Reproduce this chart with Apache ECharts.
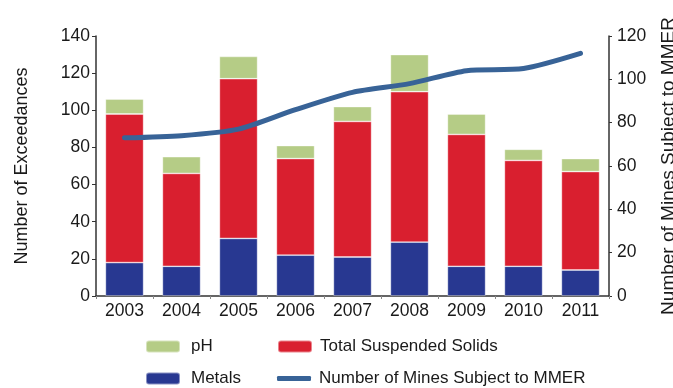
<!DOCTYPE html>
<html>
<head>
<meta charset="utf-8">
<script src="https://cdn.jsdelivr.net/npm/echarts@6/dist/echarts.min.js"></script>
<style>
html,body{margin:0;padding:0;background:#fff;}
#chart{width:673px;height:388px;}
</style>
</head>
<body>
<div id="chart"></div>
<script>
const years = ['2003','2004','2005','2006','2007','2008','2009','2010','2011'];
const metals = [18, 16, 31, 22, 21, 29, 16, 16, 14];
const tss = [80, 50, 86, 52, 73, 81, 71, 57, 53];
const ph = [8, 9, 12, 7, 8, 20, 11, 6, 7];
const mines = [73, 74, 77, 86, 94, 98, 104, 105, 112];
const leftTicks = [0, 140, 20];
const rightTicks = [0, 120, 20];

const font = '"Liberation Sans", Arial, Helvetica, sans-serif';
const axisColor = '#333';
const chart = echarts.init(document.getElementById('chart'), null, {renderer: 'canvas'});
const barBorder = {borderColor: 'rgba(255,255,255,0.45)', borderWidth: 0.8};

function leg(name, left, top, pad, extra) {
  return Object.assign({
    left: left, top: top, itemWidth: 34, itemHeight: 12, padding: 0,
    textStyle: {fontFamily: font, fontSize: 17, color: '#1a1a1a', padding: [0, 0, 0, pad]},
    data: [name]
  }, extra || {});
}

chart.setOption({
  animation: false,
  textStyle: {fontFamily: font, color: '#1a1a1a'},
  grid: {left: 96, right: 64, top: 36, bottom: 92, containLabel: false, outerBoundsMode: 'none'},
  legend: [
    leg('pH', 145, 338, 6),
    leg('Metals', 145, 370, 6),
    leg('Total Suspended Solids', 277, 338, 3),
    leg('Number of Mines Subject to MMER', 277, 370, 3, {
      itemHeight: 5,
      data: [{name: 'Number of Mines Subject to MMER', icon: 'roundRect', itemStyle: {color: '#386397'}}]
    })
  ],
  xAxis: {
    type: 'category', data: years,
    axisLine: {lineStyle: {color: axisColor, width: 1.5}},
    axisTick: {show: true, length: 3, alignWithLabel: false, lineStyle: {color: '#888'}},
    axisLabel: {fontSize: 17.5, color: '#1a1a1a', margin: 6, fontFamily: font}
  },
  yAxis: [
    {
      type: 'value', min: leftTicks[0], max: leftTicks[1], interval: leftTicks[2],
      name: 'Number of Exceedances', nameLocation: 'middle', nameRotate: 90, nameGap: 65,
      nameTextStyle: {fontSize: 18, color: '#1a1a1a', fontFamily: font},
      axisLine: {show: true, lineStyle: {color: axisColor, width: 1.5}},
      axisTick: {show: true, length: 4, lineStyle: {color: axisColor}},
      axisLabel: {fontSize: 17.5, color: '#1a1a1a', margin: 6, fontFamily: font},
      splitLine: {show: false}
    },
    {
      type: 'value', min: rightTicks[0], max: rightTicks[1], interval: rightTicks[2], position: 'right',
      name: 'Number of Mines Subject to MMER', nameLocation: 'middle', nameRotate: 90, nameGap: 50,
      nameTextStyle: {fontSize: 19, color: '#1a1a1a', fontFamily: font},
      axisLine: {show: true, lineStyle: {color: axisColor, width: 1.5}},
      axisTick: {show: true, length: 3, lineStyle: {color: axisColor}},
      axisLabel: {fontSize: 17.5, color: '#1a1a1a', margin: 8, fontFamily: font},
      splitLine: {show: false}
    }
  ],
  series: [
    {name: 'Metals', type: 'bar', stack: 'ex', data: metals, barWidth: '67%',
     itemStyle: Object.assign({color: '#283891'}, barBorder)},
    {name: 'Total Suspended Solids', type: 'bar', stack: 'ex', data: tss,
     itemStyle: Object.assign({color: '#d91f2f'}, barBorder)},
    {name: 'pH', type: 'bar', stack: 'ex', data: ph,
     itemStyle: Object.assign({color: '#b5cc86'}, barBorder)},
    {name: 'Number of Mines Subject to MMER', type: 'line', yAxisIndex: 1, data: mines,
     smooth: 0.25, symbol: 'none', showSymbol: false,
     lineStyle: {color: '#386397', width: 5, cap: 'round', join: 'round'},
     itemStyle: {color: '#386397'}}
  ]
});
</script>
</body>
</html>
